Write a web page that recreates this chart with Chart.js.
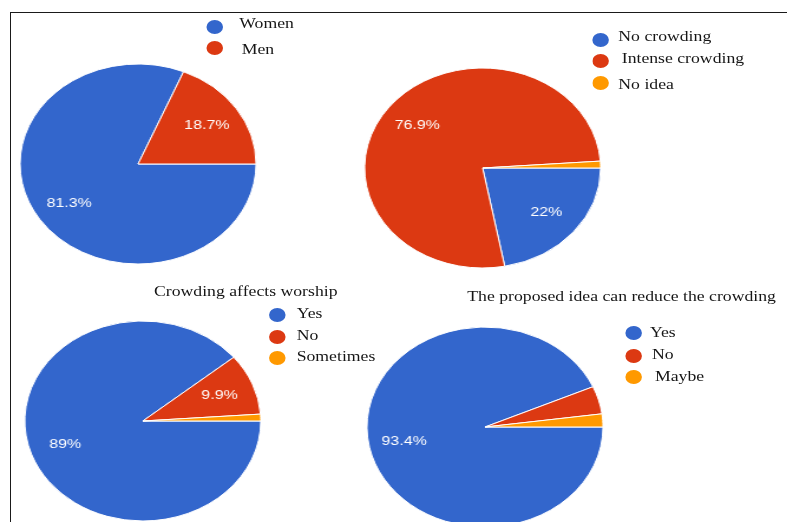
<!DOCTYPE html>
<html>
<head>
<meta charset="utf-8">
<script src="https://cdn.jsdelivr.net/npm/chart.js@4"></script>
<style>
    html, body { margin: 0; padding: 0; background: #fff; }
    body { width: 787px; height: 522px; overflow: hidden; position: relative; }
    #frame { position: absolute; left: 10px; top: 12px; width: 790px; height: 520px;
             border-top: 1px solid #1a1a1a; border-left: 1px solid #1a1a1a; }
    /* the source picture was stretched sideways, so the whole sheet is too */
    #sheet { position: absolute; left: 0; top: 0; width: 667px; height: 522px;
             transform: scaleX(1.18); transform-origin: 0 0; }
    #sheet canvas { position: absolute; }
    .txt { position: absolute; font: 15px "Liberation Serif", "Times New Roman", serif;
           line-height: 15px; color: #161616; white-space: nowrap; }
    .dot { position: absolute; width: 14px; height: 14px; border-radius: 50%; }
</style>
</head>
<body>
<div id="frame"></div>
<div id="sheet">
    <canvas id="pieGender" width="210" height="210"></canvas>
    <canvas id="pieCrowding" width="210" height="210"></canvas>
    <canvas id="pieWorship" width="210" height="210"></canvas>
    <canvas id="pieReduce" width="210" height="210"></canvas>
</div>
<script>
const sliceColors = ['#3366cc', '#dc3912', '#ff9900'];

const genderLabels = ['Women', 'Men'];
const genderValues = [81.3, 18.7];

const crowdingLabels = ['No crowding', 'Intense crowding', 'No idea'];
const crowdingValues = [22, 76.9, 1.1];

const worshipTitle = 'Crowding affects worship';
const worshipLabels = ['Yes', 'No', 'Sometimes'];
const worshipValues = [89, 9.9, 1.1];

const reduceTitle = 'The proposed idea can reduce the crowding';
const reduceLabels = ['Yes', 'No', 'Maybe'];
const reduceValues = [93.4, 4.5, 2.1];

// placement of each pie (unstretched px) and its legend
const pies = [
    {id: 'pieGender', labels: genderLabels, values: genderValues, cx: 116.5, cy: 163.5,
        dotX: 181.8, textX: [202.8, 204.8], rowY: [26.5, 48.3], textTop: [16.4, 41.7]},
    {id: 'pieCrowding', labels: crowdingLabels, values: crowdingValues, cx: 408.7, cy: 167.5,
        dotX: 509.1, textX: [524, 526.9, 524], rowY: [40, 61, 83.3], textTop: [29.1, 50.7, 77.4]},
    {id: 'pieWorship', labels: worshipLabels, values: worshipValues, cx: 120.6, cy: 420.5,
        title: worshipTitle, titleX: 130.5, titleTop: 284.1,
        dotX: 235, textX: [251.4, 251.4, 251.4], rowY: [315, 336.7, 358.3], textTop: [305.7, 328.4, 349.1]},
    {id: 'pieReduce', labels: reduceLabels, values: reduceValues, cx: 411.3, cy: 426.7,
        title: reduceTitle, titleX: 396, titleTop: 289.1,
        dotX: 536.7, textX: [550.8, 552.5, 555.1], rowY: [333.3, 356, 377.3], textTop: [324.7, 347.4, 369.1]}
];

// white percentage text inside the bigger slices
const sliceLabels = {
    id: 'sliceLabels',
    afterDatasetsDraw(chart) {
        const ctx = chart.ctx;
        const values = chart.data.datasets[0].data;
        const total = values.reduce((a, b) => a + b, 0);
        ctx.save();
        ctx.font = '13.5px "Liberation Sans", Arial, sans-serif';
        ctx.fillStyle = '#ffffff';
        ctx.textAlign = 'center';
        ctx.textBaseline = 'middle';
        chart.getDatasetMeta(0).data.forEach((arc, i) => {
            if (values[i] / total * 100 < 5) return;
            const {x, y, startAngle, endAngle, outerRadius} =
                arc.getProps(['x', 'y', 'startAngle', 'endAngle', 'outerRadius'], true);
            const mid = (startAngle + endAngle) / 2;
            const r = outerRadius * 0.7;
            ctx.fillText(values[i] + '%', x + Math.cos(mid) * r, y + Math.sin(mid) * r);
        });
        ctx.restore();
    }
};

const sheet = document.getElementById('sheet');

function addText(text, left, top) {
    const el = document.createElement('div');
    el.className = 'txt';
    el.style.left = left + 'px';
    el.style.top = top + 'px';
    el.textContent = text;
    sheet.appendChild(el);
}

pies.forEach(p => {
    const canvas = document.getElementById(p.id);
    canvas.style.left = (p.cx - 105) + 'px';
    canvas.style.top = (p.cy - 105) + 'px';

    new Chart(canvas.getContext('2d'), {
        type: 'pie',
        data: {
            labels: p.labels,
            datasets: [{
                data: p.values,
                backgroundColor: sliceColors.slice(0, p.values.length),
                borderColor: '#ffffff',
                borderWidth: 1
            }]
        },
        options: {
            responsive: false,
            animation: false,
            events: [],
            rotation: 90,
            radius: 100,
            layout: {padding: 0},
            plugins: {
                legend: {display: false},
                tooltip: {enabled: false}
            }
        },
        plugins: [sliceLabels]
    });

    if (p.title) addText(p.title, p.titleX, p.titleTop);
    p.labels.forEach((label, i) => {
        const dot = document.createElement('div');
        dot.className = 'dot';
        dot.style.background = sliceColors[i];
        dot.style.left = (p.dotX - 7) + 'px';
        dot.style.top = (p.rowY[i] - 7) + 'px';
        sheet.appendChild(dot);
        addText(label, p.textX[i], p.textTop[i]);
    });
});
</script>
</body>
</html>
